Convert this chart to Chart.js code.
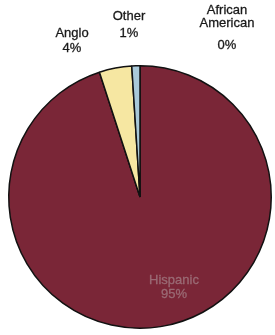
<!DOCTYPE html>
<html>
<head>
<meta charset="utf-8">
<script src="https://cdn.jsdelivr.net/npm/chart.js@4/dist/chart.umd.min.js"></script>
<style>
  html, body { margin: 0; padding: 0; background: #fff; }
  #chart { display: block; }
</style>
</head>
<body>
<canvas id="chart" width="275" height="335"></canvas>
<script>
const categories = ['Hispanic', 'Anglo', 'Other', 'African American'];
const shares = [95, 4, 1, 0];
const sliceColors = ['#7a2637', '#f6e7a2', '#a9c9d9', '#2b2b2b'];

// label text lines and where each line goes
const labelSpots = [
    { lines: ['Hispanic', '95%'], x: 174, ys: [280, 294], color: '#9a6a74' },
    { lines: ['Anglo', '4%'], x: 72, ys: [33, 48], color: '#1a1a1a' },
    { lines: ['Other', '1%'], x: 129, ys: [16, 33], color: '#1a1a1a' },
    { lines: ['African', 'American', '0%'], x: 227, ys: [10, 23, 45], color: '#1a1a1a' }
];

const textLabels = {
    id: 'textLabels',
    afterDraw(chart) {
        const ctx = chart.ctx;
        ctx.save();
        ctx.font = '13px "Liberation Sans", Arial, sans-serif';
        ctx.textAlign = 'center';
        ctx.textBaseline = 'middle';
        ctx.lineWidth = 0.3;
        labelSpots.forEach(spot => {
            ctx.fillStyle = spot.color;
            ctx.strokeStyle = spot.color;
            spot.lines.forEach((line, j) => {
                ctx.fillText(line, spot.x, spot.ys[j]);
                ctx.strokeText(line, spot.x, spot.ys[j]);
            });
        });
        ctx.restore();
    }
};

new Chart(document.querySelector('#chart'), {
    type: 'pie',
    data: {
        labels: categories,
        datasets: [{
            data: shares,
            backgroundColor: sliceColors,
            borderColor: '#111',
            borderWidth: 1.5
        }]
    },
    options: {
        responsive: false,
        animation: false,
        rotation: 0,
        layout: { padding: { left: 8, right: 3, top: 64, bottom: 5 } },
        plugins: {
            legend: { display: false },
            tooltip: { enabled: false }
        }
    },
    plugins: [textLabels]
});
</script>
</body>
</html>
